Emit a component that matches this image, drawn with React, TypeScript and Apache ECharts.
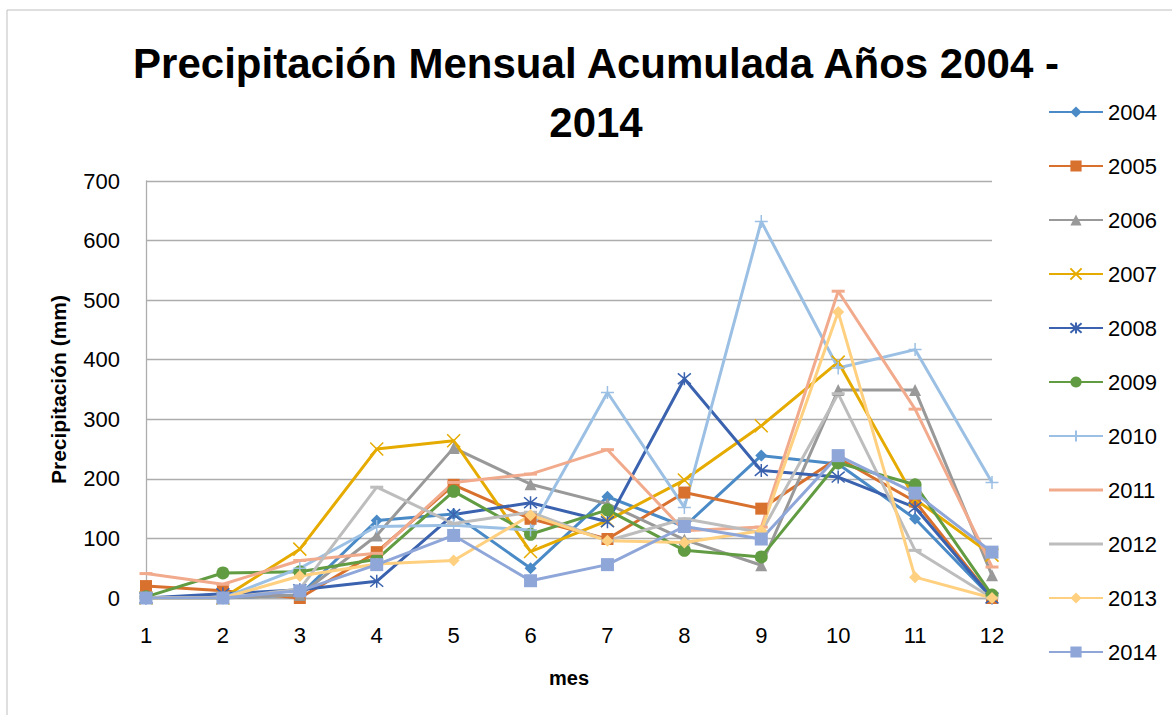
import React, { useEffect, useRef } from "react";
import * as echarts from "echarts";

const months = ["1", "2", "3", "4", "5", "6", "7", "8", "9", "10", "11", "12"];
const years = ["2004", "2005", "2006", "2007", "2008", "2009", "2010", "2011", "2012", "2013", "2014"];

const v2004 = [0, 0, 5, 130, 141, 50, 170, 120, 239, 225, 133, 0];
const v2005 = [20, 12, 0, 77, 190, 133, 99, 177, 150, 235, 162, 0];
const v2006 = [0, 0, 5, 105, 252, 191, 158, 98, 55, 349, 349, 38];
const v2007 = [0, 0, 82, 250, 264, 78, 130, 198, 289, 396, 166, 72];
const v2008 = [0, 7, 14, 28, 140, 160, 128, 368, 214, 203, 152, 0];
const v2009 = [2, 42, 44, 65, 179, 107, 148, 80, 69, 227, 190, 5];
const v2010 = [0, 0, 50, 120, 122, 114, 345, 152, 632, 386, 417, 194];
const v2011 = [41, 23, 63, 75, 194, 208, 249, 113, 119, 515, 317, 52];
const v2012 = [0, 0, 15, 186, 125, 144, 96, 133, 110, 343, 80, 0];
const v2013 = [0, 0, 37, 57, 63, 139, 96, 93, 113, 480, 35, 0];
const v2014 = [0, 0, 12, 56, 105, 29, 56, 120, 99, 239, 176, 77];

const yTicks = [0, 100, 200, 300, 400, 500, 600, 700];

const seriesValues = [v2004, v2005, v2006, v2007, v2008, v2009, v2010, v2011, v2012, v2013, v2014];
const colors = ["#4A8AC6", "#D8702E", "#999999", "#E6AB00", "#3A62AE", "#629C42", "#9BC0E4", "#F2AA8C", "#BDBDBD", "#FFD080", "#8FA6D9"];

const X_PATH = "path://M0,0L10,10M10,0L0,10";
const AST_PATH = "path://M0,0L10,10M10,0L0,10M5,-1L5,11";
const PLUS_PATH = "path://M5,0L5,10M0,5L10,5";
const DASH_LEGEND = "path://M0,0M54,14M0,5.5H54V8.5H0Z";

const symbols: any[] = ["diamond", "rect", "triangle", X_PATH, AST_PATH, "circle", PLUS_PATH, "rect", "rect", "diamond", "rect"];
const symbolSizes: any[] = [12, 12, 12, 13, 13, 13, 13, [13, 3], [13, 3], 12, 13];
const stroked = [false, false, false, true, true, false, true, false, false, false, false];
const dashMarker = [false, false, false, false, false, false, false, true, true, false, false];

export default function App() {
  const ref = useRef<HTMLDivElement>(null);
  useEffect(() => {
    if (!ref.current) return;
    const chart = echarts.init(ref.current, null, { renderer: "svg" });
    const font = "'Liberation Sans', Arial, sans-serif";
    chart.setOption({
      animation: false,
      backgroundColor: "#ffffff",
      textStyle: { fontFamily: font },
      title: {
        text: "Precipitación Mensual Acumulada Años 2004 -\n2014",
        left: 596,
        top: 34,
        textAlign: "center",
        padding: 0,
        textStyle: { fontSize: 42, fontWeight: "bold", color: "#000", lineHeight: 59, fontFamily: font },
      },
      graphic: [
        {
          type: "rect",
          shape: { x: 7, y: 10, width: 1400, height: 1000 },
          style: { fill: "none", stroke: "#BFBFBF", lineWidth: 1 },
          silent: true,
        },
      ],
      legend: {
        orient: "vertical",
        left: 1048,
        top: 101,
        itemWidth: 54,
        itemHeight: 14,
        itemGap: 32,
        padding: 0,
        textStyle: { fontSize: 22, color: "#000", fontFamily: font },
        data: years.map((y, i) => (dashMarker[i] ? { name: y, icon: DASH_LEGEND } : { name: y })),
      },
      grid: { left: 146, right: 180, top: 181, bottom: 117, containLabel: false },
      xAxis: {
        type: "category",
        data: months,
        boundaryGap: false,
        name: "mes",
        nameLocation: "middle",
        nameGap: 70,
        nameTextStyle: { fontSize: 20, fontWeight: "bold", color: "#000", fontFamily: font },
        axisLine: { show: true, lineStyle: { color: "#ADADAD", width: 1.3 } },
        axisTick: { show: false },
        axisLabel: { fontSize: 22, color: "#000", margin: 26, fontFamily: font },
        splitLine: { show: false },
      },
      yAxis: {
        type: "value",
        min: yTicks[0],
        max: yTicks[yTicks.length - 1],
        interval: 100,
        name: "Precipitación (mm)",
        nameLocation: "middle",
        nameGap: 77,
        nameTextStyle: { fontSize: 21, fontWeight: "bold", color: "#000", fontFamily: font },
        axisLine: { show: true, lineStyle: { color: "#ADADAD", width: 1.3 } },
        axisTick: { show: false },
        axisLabel: { fontSize: 22, color: "#000", margin: 26, fontFamily: font },
        splitLine: { show: true, lineStyle: { color: "#ADADAD", width: 1.3 } },
      },
      series: years.map((y, i) => ({
        name: y,
        type: "line",
        data: seriesValues[i],
        symbol: symbols[i],
        symbolSize: symbolSizes[i],
        showAllSymbol: true,
        color: colors[i],
        lineStyle: { width: 3, color: colors[i] },
        itemStyle: stroked[i]
          ? { color: colors[i], borderColor: colors[i], borderWidth: 1.5 }
          : { color: colors[i], borderWidth: 0 },
        emphasis: { disabled: true },
      })),
    });
    return () => chart.dispose();
  }, []);
  return (
    <div
      ref={ref}
      style={{ position: "fixed", left: 0, top: 0, width: 1172, height: 715 }}
    />
  );
}
